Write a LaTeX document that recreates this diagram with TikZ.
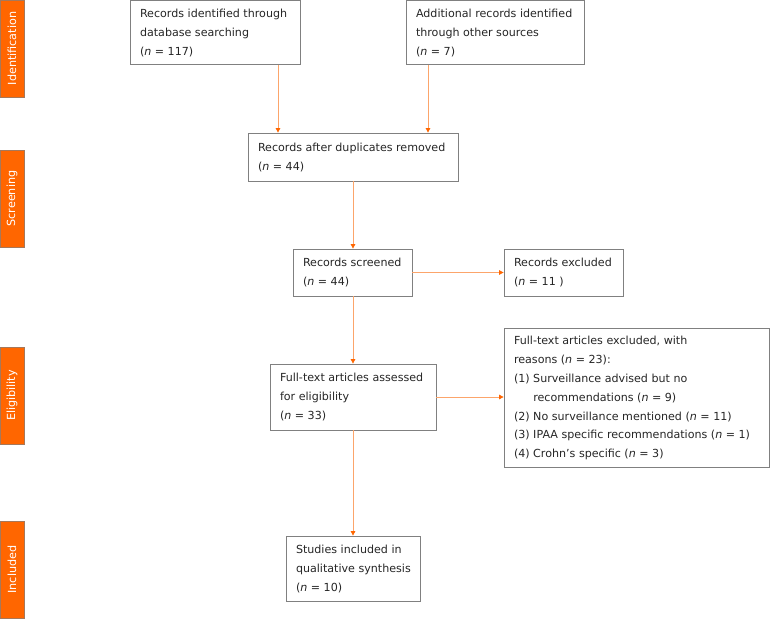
\documentclass[tikz,border=0pt]{standalone}
\usepackage{fontspec}
\setmainfont{DejaVu Sans}
\usetikzlibrary{arrows.meta}
\definecolor{barorange}{HTML}{FF6600}
\definecolor{arrline}{HTML}{FCA56B}
\definecolor{boxgray}{HTML}{808080}
\definecolor{txt}{HTML}{262626}
\newcommand{\bxt}[2]{\makebox[#1][l]{\begin{tabular}[c]{@{}l@{}}#2\end{tabular}}}
\tikzset{
  box/.style={draw=boxgray, line width=0.8pt, fill=white, text=txt,
    inner xsep=10pt, inner ysep=0pt, font=\fontsize{11.1}{18.8}\selectfont, anchor=center},
  bar/.style={draw=boxgray!70!barorange, line width=0.6pt, fill=barorange, text=white,
    minimum width=97pt, minimum height=24pt, inner sep=0pt, rotate=90,
    font=\fontsize{11.2}{13}\selectfont},
  arr/.style={draw=arrline, line width=0.8pt, -{Triangle[width=4.5pt,length=4.5pt,color=barorange]}}
}
\newcommand{\nn}{\textit{n}}
\begin{document}
\begin{tikzpicture}[x=1pt,y=-1pt]
\useasboundingbox (0,0) rectangle (770,621);
% side bars
\node[bar] (s1) at (12,48.5) {Identification};
\node[bar] (s2) at (12,198.5) {Screening};
\node[bar] (s3) at (12,395.5) {Eligibility};
\node[bar] (s4) at (12,569.5) {Included};
% boxes
\node[box, minimum width=170pt, minimum height=64pt] (A) at (215,32.5)
  {\bxt{150pt}{Records identified through\\database searching\\(\nn{} = 117)}};
\node[box, minimum width=178pt, minimum height=64pt] (B) at (495,32.5)
  {\bxt{158pt}{Additional records identified\\through other sources\\(\nn{} = 7)}};
\node[box, minimum width=210pt, minimum height=48pt] (C) at (353,157)
  {\bxt{190pt}{Records after duplicates removed\\(\nn{} = 44)}};
\node[box, minimum width=119pt, minimum height=47pt] (D) at (352.5,272.5)
  {\bxt{99pt}{Records screened\\(\nn{} = 44)}};
\node[box, minimum width=119pt, minimum height=47pt] (E) at (563.5,272.5)
  {\bxt{99pt}{Records excluded\\(\nn{} = 11 )}};
\node[box, minimum width=166pt, minimum height=66pt] (F) at (353,397)
  {\bxt{146pt}{Full-text articles assessed\\for eligibility\\(\nn{} = 33)}};
\node[box, minimum width=265pt, minimum height=139pt] (G) at (636.5,397.5)
  {\bxt{245pt}{Full-text articles excluded, with\\reasons (\nn{} = 23):\\(1) Surveillance advised but no\\\hphantom{(1) }recommendations (\nn{} = 9)\\(2) No surveillance mentioned (\nn{} = 11)\\(3) IPAA specific recommendations (\nn{} = 1)\\(4) Crohn’s specific (\nn{} = 3)}};
\node[box, minimum width=134pt, minimum height=65pt] (H) at (353,568.5)
  {\bxt{114pt}{Studies included in\\qualitative synthesis\\(\nn{} = 10)}};
% connectors
\draw[arr] ([xshift=63pt]A.south) -- ([xshift=63pt]A.south |- C.north);
\draw[arr] ([xshift=-67pt]B.south) -- ([xshift=-67pt]B.south |- C.north);
\draw[arr] (C.south) -- (C.south |- D.north);
\draw[arr] (D.east) -- (E.west);
\draw[arr] (F.north |- D.south) -- (F.north);
\draw[arr] (F.east) -- (G.west |- F.east);
\draw[arr] (F.south) -- (H.north);
\end{tikzpicture}
\end{document}
